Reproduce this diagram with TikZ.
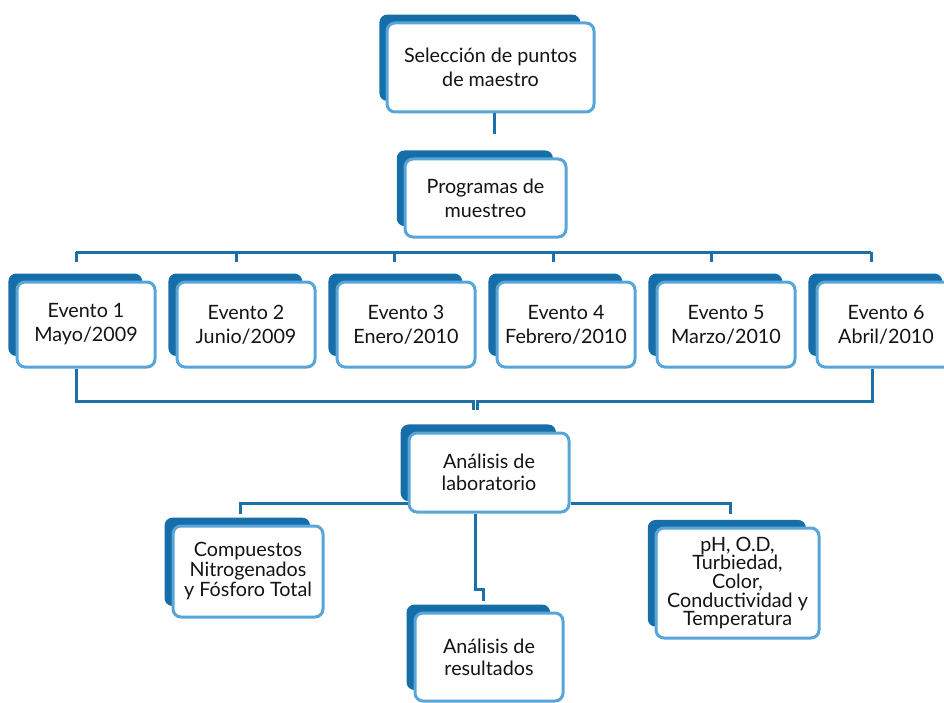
\documentclass[tikz,border=0pt]{standalone}
\usepackage{fontspec}
\setmainfont{Lato}
\usetikzlibrary{shadows}
\newdimen\pxu \pxu=0.75pt
\definecolor{boxdark}{RGB}{22,110,168}
\definecolor{boxedge}{RGB}{88,165,218}
\definecolor{linkblue}{RGB}{28,112,170}
\definecolor{textdark}{RGB}{20,20,20}
\tikzset{
  stepbox/.style 2 args={draw=boxedge, line width=3\pxu, fill=white,
    rounded corners=8\pxu, minimum width=#1\pxu, minimum height=#2\pxu,
    align=center, text=textdark, inner sep=0pt,
    general shadow={fill=boxdark, draw=none, shadow xshift=-11\pxu,
      shadow yshift=10\pxu, shadow scale=0.97}},
  link/.style={draw=linkblue, line width=3\pxu},
  lead/.style={font=\fontsize{14.8}{#1}\selectfont},
}
\begin{document}
\begin{tikzpicture}[x=\pxu, y=-\pxu]
  \useasboundingbox (0,0) rectangle (944,702);
  \clip (0,0) rectangle (944,702);

  % top of the tree
  \node[stepbox={207}{89}, lead=18] (seleccion) at (490.5,67.5)
    {Selección de puntos\\de maestro};
  \node[stepbox={161}{78}, lead=18] (programas) at (485.5,198)
    {Programas de\\muestreo};

  % sampling events
  \node[stepbox={138}{85}, lead=18] (ev1) at (86,324.5) {Evento 1\\Mayo/2009};
  \node[stepbox={138}{85}, lead=18] (ev2) at (246,324.5) {Evento 2\\Junio/2009};
  \node[stepbox={138}{85}, lead=18] (ev3) at (406,324.5) {Evento 3\\Enero/2010};
  \node[stepbox={138}{85}, lead=18] (ev4) at (566,324.5) {Evento 4\\Febrero/2010};
  \node[stepbox={138}{85}, lead=18] (ev5) at (726,324.5) {Evento 5\\Marzo/2010};
  \node[stepbox={138}{85}, lead=18] (ev6) at (886,324.5) {Evento 6\\Abril/2010};

  % lab work
  \node[stepbox={160}{79}, lead=16.5] (lab) at (489,472.5)
    {Análisis de\\laboratorio};
  \node[stepbox={150}{91}, lead=15] (compuestos) at (248,571.5)
    {Compuestos\\Nitrogenados\\y Fósforo Total};
  \node[stepbox={163}{110}, lead=14] (fisico) at (737.5,583)
    {pH, O.D,\\Turbiedad,\\Color,\\Conductividad y\\Temperatura};
  \node[stepbox={148}{88}, lead=16.5] (resultados) at (489,657)
    {Análisis de\\resultados};

  % connectors
  \coordinate (busl) at (76,252);
  \coordinate (busr) at (871,252);
  \coordinate (joinl) at (473,410);
  \coordinate (joinr) at (477,410);

  \draw[link] ([xshift=3.5\pxu]seleccion.south) -- ++(0,21);
  \draw[link] (busl) -- (busr);
  \foreach \i/\dx in {1/-10,2/-10,3/-12,4/-13,5/-15,6/-15}
    \draw[link] ([xshift=\dx\pxu]ev\i.north |- busl) -- ([xshift=\dx\pxu,yshift=19\pxu]ev\i.north);
  \draw[link] ([xshift=-10\pxu]ev1.south) -- ++(0,33) -| (joinl);
  \draw[link] ([xshift=-14\pxu]ev6.south) -- ++(0,33) -| (joinr);
  \draw[link] ([yshift=-30.5\pxu]lab.west) -| ([xshift=-8\pxu,yshift=11\pxu]compuestos.north);
  \draw[link] ([yshift=-30.5\pxu]lab.east) -| ([xshift=-7\pxu,yshift=13\pxu]fisico.north);
  \draw[link] ([xshift=-14\pxu]lab.south) -- ++(0,76) -| ([xshift=-6\pxu,yshift=11\pxu]resultados.north);
\end{tikzpicture}
\end{document}
